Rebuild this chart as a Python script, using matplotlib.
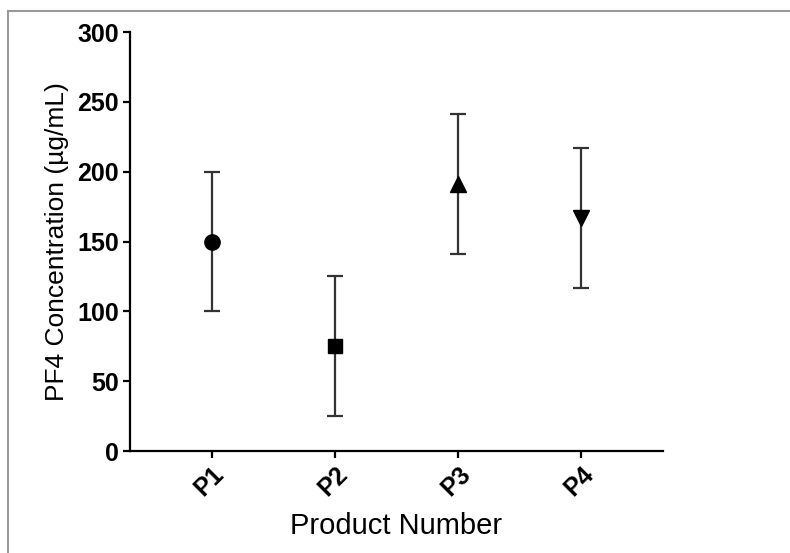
import matplotlib
matplotlib.use('Agg')
from matplotlib import pyplot as plt
from matplotlib.lines import Line2D
import numpy as np

products = ['P1', 'P2', 'P3', 'P4']
means = [150, 75, 191, 167]
errors = [50, 50, 50, 50]
markers = ['o', 's', '^', 'v']

plt.rcParams['font.family'] = ['Liberation Sans', 'DejaVu Sans']

fig = plt.figure(figsize=(7.9, 5.53), dpi=100)
ax = fig.add_axes([0.1646, 0.1844, 0.6747, 0.7577])

x = np.arange(1, len(products) + 1)
for xi, m, e, mk in zip(x, means, errors, markers):
	ax.errorbar(xi, m, yerr=e, fmt='none', ecolor='#333333', elinewidth=1.6, capsize=6, capthick=1.6)
	ax.plot(xi, m, marker=mk, color='black', markersize=11 if mk != 's' else 10, linestyle='none')

ax.set_xlim(1/3, 4 + 2/3)
ax.set_ylim(0, 300)
ax.set_yticks([0, 50, 100, 150, 200, 250, 300])
ax.set_xticks(x)
ax.set_xticklabels(products, rotation=45, ha='right', va='top', rotation_mode='anchor')

for side in ['top', 'right']:
	ax.spines[side].set_visible(False)
for side in ['left', 'bottom']:
	ax.spines[side].set_linewidth(1.6)
ax.tick_params(axis='both', direction='out', length=5, width=1.6, labelsize=18, pad=3)
for lbl in ax.get_xticklabels() + ax.get_yticklabels():
	lbl.set_fontweight('bold')

ax.set_ylabel('PF4 Concentration (µg/mL)', fontsize=19, labelpad=6)
ax.set_xlabel('Product Number', fontsize=21, labelpad=8)

# gray frame around the picture
fig.add_artist(Line2D([8/790, 1], [1 - 11/553, 1 - 11/553], color='#999999', linewidth=1.5, transform=fig.transFigure))
fig.add_artist(Line2D([8/790, 8/790], [0, 1 - 11/553], color='#999999', linewidth=1.5, transform=fig.transFigure))

fig.savefig('out.png', dpi=100)
